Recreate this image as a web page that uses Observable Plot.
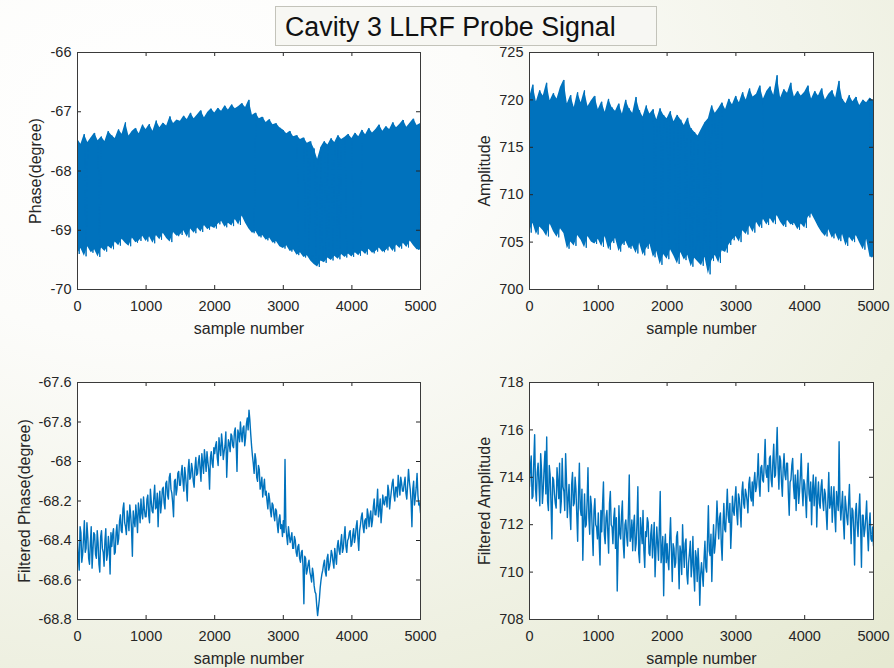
<!DOCTYPE html>
<html>
<head>
<meta charset="utf-8">
<script src="https://cdn.jsdelivr.net/npm/d3@7"></script>
<script src="https://cdn.jsdelivr.net/npm/@observablehq/plot@0.6"></script>
<style>
  html, body { margin: 0; padding: 0; }
  #slide {
    position: relative;
    width: 894px;
    height: 668px;
    overflow: hidden;
    background: radial-gradient(ellipse 120% 110% at 18% 18%, #ffffff 0%, #fcfcfa 30%, #f3f4ea 60%, #e9ecd8 90%, #e6e9d2 100%);
    font-family: "Liberation Sans", Arial, sans-serif;
  }
  .panel { position: absolute; }
  #title {
    position: absolute;
    left: 275px;
    top: 6px;
    height: 38px;
    width: 371px;
    border: 1px solid #c3c3ba;
    background: #f7f7f3;
    font-size: 26.8px;
    line-height: 40px;
    padding-left: 9px;
    color: #111;
    white-space: nowrap;
    z-index: 5;
  }
</style>
</head>
<body>
<div id="slide">
  <div id="title">Cavity 3 LLRF Probe Signal</div>
</div>
<script>
// Sample axis
const xTicks = [0, 1000, 2000, 3000, 4000, 5000];
const xLabel = "sample number";
const SAMPLE_STEP = 25;

// Y ticks for each panel
const phaseTicks = [-70, -69, -68, -67, -66];
const ampTicks = [700, 705, 710, 715, 720, 725];
const filteredPhaseTicks = [-68.8, -68.6, -68.4, -68.2, -68, -67.8, -67.6];
const filteredAmpTicks = [708, 710, 712, 714, 716, 718];

// Raw phase: successive peaks (even samples) and troughs (odd samples) of the trace
const phasePeaks = [
  -67.46, -67.55, -67.38, -67.52, -67.44, -67.36, -67.49, -67.42, -67.50, -67.33,
  -67.40, -67.45, -67.30, -67.38, -67.18, -67.41, -67.33, -67.28, -67.37, -67.22,
  -67.30, -67.21, -67.33, -67.15, -67.27, -67.19, -67.24, -67.08, -67.20, -67.14,
  -67.16, -67.07, -67.13, -67.02, -67.12, -67.05, -66.98, -67.10, -67.01, -66.95,
  -67.02, -66.94, -66.99, -66.90, -66.97, -66.88, -66.95, -66.91, -66.86, -66.93,
  -66.80, -67.06, -67.02, -67.12, -67.09, -67.18, -67.13, -67.22, -67.20, -67.27,
  -67.31, -67.37, -67.33, -67.42, -67.40, -67.47, -67.44, -67.53, -67.50, -67.62,
  -67.80, -67.60, -67.50, -67.56, -67.45, -67.52, -67.40, -67.47, -67.43, -67.38,
  -67.45, -67.36, -67.42, -67.31, -67.39, -67.28, -67.36, -67.30, -67.22, -67.33,
  -67.25, -67.30, -67.18, -67.27, -67.21, -67.14, -67.26, -67.19, -67.12, -67.23, -67.20
];
const phaseTroughs = [
  -69.40, -69.31, -69.44, -69.28, -69.38, -69.33, -69.45, -69.30, -69.36, -69.27,
  -69.32, -69.20, -69.26, -69.15, -69.22, -69.27, -69.13, -69.21, -69.18, -69.10,
  -69.19, -69.11, -69.22, -69.09, -69.16, -69.05, -69.14, -69.20, -69.04, -69.10,
  -69.08, -69.01, -69.12, -68.98, -69.05, -68.96, -69.03, -68.92, -68.99, -68.94,
  -68.97, -68.90, -68.85, -68.95, -68.88, -68.93, -68.82, -68.91, -68.76, -68.88,
  -68.98, -69.05, -69.02, -69.12, -69.09, -69.17, -69.13, -69.22, -69.19, -69.28,
  -69.31, -69.26, -69.36, -69.33, -69.42, -69.38, -69.46, -69.43, -69.52, -69.58,
  -69.62, -69.52, -69.55, -69.47, -69.51, -69.44, -69.49, -69.41, -69.46, -69.40,
  -69.45, -69.38, -69.43, -69.35, -69.41, -69.32, -69.39, -69.36, -69.30, -69.37,
  -69.34, -69.28, -69.36, -69.25, -69.31, -69.22, -69.29, -69.18, -69.26, -69.33
];

// Raw amplitude: peaks and troughs of the trace
const ampPeaks = [
  720.2, 721.6, 719.8, 721.0, 720.4, 721.8, 719.9, 720.7, 720.1, 721.3,
  722.1, 719.6, 720.5, 719.2, 720.8, 719.7, 721.0, 719.3, 719.9, 720.4,
  719.0, 719.8, 718.7, 720.1, 719.2, 718.8, 719.6, 718.5, 720.0, 719.1,
  718.6, 720.3, 718.9, 718.2, 719.4, 718.5, 719.0, 717.9, 719.1, 718.4,
  718.0, 718.8, 717.7, 718.4, 717.9, 717.3, 718.1, 717.0, 716.6, 716.2,
  716.9, 717.6, 718.0, 719.4, 718.6, 719.1, 719.7, 719.0, 720.1, 719.5,
  720.4, 719.7, 720.8, 720.0, 721.2, 720.3, 720.6, 721.5, 720.1, 720.9,
  721.4, 720.5, 722.6, 720.2, 721.1, 720.7, 721.8, 720.3, 720.9, 720.4,
  720.8, 721.5, 720.1, 720.9, 720.4, 721.2, 720.0, 720.6, 721.0, 720.2,
  722.0, 720.1, 719.6, 720.5, 719.8, 720.3, 719.4, 720.0, 719.7, 720.2, 719.9
];
const ampTroughs = [
  706.0, 707.0, 705.8, 706.6, 706.2, 705.6, 706.9, 706.1, 705.5, 706.4,
  705.9, 704.3, 705.0, 704.6, 705.7, 705.2, 704.4, 705.6, 705.0, 704.8,
  705.3, 704.5, 705.6, 704.2, 704.9, 705.4, 704.0, 704.7, 705.1, 704.3,
  704.6, 703.8, 704.9, 703.6, 704.3, 704.8, 703.4, 704.0, 702.6, 703.7,
  703.2, 704.2, 703.5, 702.7, 703.9, 703.1, 703.6, 702.4, 703.3, 702.9,
  702.5, 703.4, 701.6, 703.0, 703.6, 702.8, 704.1, 703.9, 704.7, 705.2,
  705.6, 705.0, 706.2, 705.8, 706.7, 706.0, 707.1, 706.5, 707.4, 706.8,
  707.5, 706.9, 707.8, 707.1, 706.6, 707.3, 706.8, 707.0, 706.3, 706.9,
  706.5, 707.6, 708.0, 707.3, 706.6, 706.0, 705.6, 706.3, 705.4, 705.9,
  705.1, 705.8, 704.6, 705.5, 705.0, 705.7, 704.9, 704.2, 705.3, 703.4
];

// Filtered phase: samples on the SAMPLE_STEP grid ...
const filteredPhase = [
  -68.40, -68.55, -68.36, -68.47, -68.30, -68.44, -68.38, -68.52, -68.33, -68.45,
  -68.37, -68.49, -68.41, -68.56, -68.35, -68.46, -68.40, -68.50, -68.38, -68.57,
  -68.43, -68.34, -68.46, -68.32, -68.39, -68.27, -68.36, -68.21, -68.33, -68.25,
  -68.35, -68.27, -68.48, -68.30, -68.22, -68.36, -68.25, -68.19, -68.29, -68.24,
  -68.28, -68.17, -68.31, -68.20, -68.26, -68.12, -68.23, -68.33, -68.15, -68.21,
  -68.13, -68.24, -68.10, -68.19, -68.06, -68.16, -68.28, -68.09, -68.14, -68.05,
  -68.12, -68.02, -68.15, -68.07, -68.20, -67.99, -68.08, -68.04, -68.13, -67.98,
  -68.06, -67.97, -68.10, -68.01, -67.94, -68.05, -68.00, -68.14, -67.95, -68.03,
  -67.96, -67.90, -68.02, -67.93, -67.86, -67.99, -67.92, -68.08, -67.89, -67.95,
  -67.87, -67.93, -67.83, -68.05, -67.86, -67.80, -67.90, -67.82, -67.88, -67.78,
  -67.74, -67.86, -67.97, -68.06, -67.99, -68.10, -68.04, -68.12, -68.18, -68.09,
  -68.15, -68.24, -68.19, -68.28, -68.22, -68.30, -68.25, -68.36, -68.27, -68.32,
  -68.30, -67.99, -68.38, -68.33, -68.41, -68.36, -68.44, -68.40, -68.48, -68.42,
  -68.51, -68.45, -68.72, -68.49, -68.55, -68.50, -68.58, -68.54, -68.63, -68.67,
  -68.78, -68.70, -68.60, -68.55, -68.50, -68.58, -68.47, -68.53, -68.45, -68.51,
  -68.44, -68.52, -68.40, -68.47, -68.37, -68.44, -68.33, -68.46, -68.39, -68.35,
  -68.42, -68.34, -68.38, -68.30, -68.45, -68.32, -68.26, -68.36, -68.29, -68.24,
  -68.33, -68.25, -68.30, -68.19, -68.27, -68.14, -68.24, -68.31, -68.17, -68.22,
  -68.18, -68.12, -68.24, -68.15, -68.09, -68.20, -68.13, -68.07, -68.17, -68.11,
  -68.15, -68.08, -68.19, -68.04, -68.14, -68.33, -68.10, -68.18, -68.06, -68.22, -68.26
];
// ... and samples halfway between grid points
const filteredPhaseHalf = [
  -68.48, -68.33, -68.51, -68.39, -68.46, -68.31, -68.49, -68.41, -68.54, -68.36,
  -68.47, -68.35, -68.52, -68.38, -68.44, -68.53, -68.34, -68.47, -68.43, -68.36,
  -68.37, -68.47, -68.36, -68.42, -68.30, -68.35, -68.24, -68.31, -68.37, -68.29,
  -68.22, -68.34, -68.25, -68.33, -68.28, -68.21, -68.31, -68.26, -68.18, -68.28,
  -68.19, -68.27, -68.14, -68.25, -68.18, -68.24, -68.16, -68.20, -68.26, -68.14,
  -68.21, -68.11, -68.17, -68.08, -68.14, -68.21, -68.10, -68.17, -68.06, -68.12,
  -68.06, -68.10, -68.03, -68.13, -68.04, -68.09, -68.01, -68.10, -68.03, -68.07,
  -68.00, -68.04, -67.96, -68.06, -67.99, -67.95, -68.04, -67.98, -68.01, -67.93,
  -67.92, -67.98, -67.88, -67.97, -67.91, -67.95, -67.85, -67.96, -67.91, -67.86,
  -67.92, -67.85, -67.91, -67.84, -67.90, -67.86, -67.83, -67.92, -67.81, -67.84,
  -67.79, -67.92, -68.01, -67.96, -68.08, -68.02, -68.14, -68.08, -68.13, -68.17,
  -68.20, -68.16, -68.25, -68.21, -68.27, -68.24, -68.32, -68.29, -68.34, -68.38,
  -68.36, -68.33, -68.42, -68.37, -68.39, -68.44, -68.38, -68.46, -68.43, -68.49,
  -68.46, -68.53, -68.48, -68.57, -68.52, -68.56, -68.61, -68.57, -68.66, -68.73,
  -68.74, -68.64, -68.57, -68.52, -68.56, -68.49, -68.55, -68.50, -68.47, -68.54,
  -68.48, -68.43, -68.45, -68.41, -68.46, -68.38, -68.43, -68.40, -68.36, -68.43,
  -68.37, -68.41, -68.33, -68.39, -68.35, -68.28, -68.33, -68.30, -68.34, -68.27,
  -68.28, -68.33, -68.23, -68.27, -68.22, -68.28, -68.19, -68.25, -68.21, -68.18,
  -68.23, -68.15, -68.19, -68.11, -68.17, -68.13, -68.18, -68.12, -68.08, -68.15,
  -68.11, -68.16, -68.12, -68.10, -68.20, -68.14, -68.22, -68.13, -68.17, -68.21
];

// Filtered amplitude: samples on the SAMPLE_STEP grid ...
const filteredAmp = [
  713.6, 714.9, 713.2, 715.8, 713.0, 714.6, 712.8, 714.3, 713.5, 715.1,
  715.7, 712.6, 714.1, 711.4, 713.9, 712.9, 714.4, 713.1, 712.5, 714.8,
  713.4, 715.0, 712.3, 713.7, 711.8, 714.2, 712.9, 713.5, 711.3, 714.6,
  712.4, 710.5, 713.3, 712.0, 714.4, 711.6, 712.8, 710.7, 713.1, 711.9,
  712.5, 710.3, 711.7, 713.8, 711.2, 712.6, 710.8, 713.4, 711.9, 712.3,
  711.0, 709.2, 712.8, 711.4, 713.0, 710.6, 712.2, 711.1, 714.1, 711.5,
  710.9, 712.4, 711.2, 713.6, 710.4, 711.8, 712.6, 710.2, 711.5, 712.1,
  710.7, 712.0, 711.3, 709.8, 711.9, 710.5, 713.4, 710.9, 709.0, 711.6,
  711.2, 710.1, 712.3, 709.6, 711.0, 710.4, 711.7, 709.3, 710.8, 712.0,
  710.2, 711.4, 709.5, 710.8, 709.8, 711.5, 709.2, 710.6, 711.0, 708.6,
  710.4, 709.4, 711.3, 710.0, 712.8, 710.7, 709.6, 712.0, 711.2, 713.0,
  711.4, 712.5, 710.5, 712.9, 711.7, 713.5, 712.1, 711.0, 713.2, 712.4,
  713.6, 712.0, 713.1, 711.9, 713.8, 712.7, 713.3, 712.5, 714.0, 713.0,
  712.8, 714.2, 713.6, 715.0, 713.2, 714.5, 713.8, 715.6, 714.0, 713.4,
  714.9, 713.6, 715.4, 714.1, 716.1, 713.5, 714.7, 713.2, 715.0, 713.9,
  714.6, 712.4, 713.9, 714.8, 713.1, 712.6, 714.3, 713.4, 715.0, 712.8,
  713.7, 712.3, 714.6, 713.0, 712.0, 714.1, 713.5, 711.9, 713.8, 712.7,
  713.9, 712.6, 713.3, 711.8, 714.2, 712.9, 712.1, 713.6, 711.7, 713.0,
  715.5, 712.2, 713.4, 711.4, 712.8, 712.0, 713.7, 711.2, 712.6, 710.3,
  712.9, 711.5, 713.3, 710.2, 712.4, 711.8, 713.0, 710.9, 712.5, 711.3, 711.1
];
// ... and samples halfway between grid points
const filteredAmpHalf = [
  714.4, 713.1, 714.7, 713.5, 714.2, 713.7, 715.0, 712.9, 714.4, 713.3,
  713.0, 714.5, 712.9, 714.0, 713.3, 712.7, 713.8, 714.6, 713.0, 713.6,
  712.6, 713.9, 713.1, 712.5, 713.7, 712.8, 714.0, 712.4, 713.3, 712.7,
  713.5, 712.1, 711.9, 713.0, 712.3, 713.2, 711.7, 712.6, 712.0, 711.4,
  711.3, 712.6, 712.9, 711.6, 712.3, 711.7, 712.9, 712.0, 711.2, 712.7,
  712.3, 711.0, 711.6, 712.4, 711.2, 712.0, 711.5, 712.5, 711.3, 712.2,
  712.0, 710.9, 712.1, 710.8, 712.3, 711.2, 710.9, 711.7, 712.3, 710.8,
  711.6, 710.6, 712.1, 710.9, 711.2, 711.9, 710.4, 711.5, 711.0, 710.4,
  710.5, 711.4, 710.9, 711.2, 710.2, 711.5, 710.6, 711.1, 709.9, 710.9,
  711.2, 709.9, 710.4, 711.3, 710.3, 710.0, 710.9, 709.6, 710.2, 709.9,
  709.9, 710.6, 710.2, 711.4, 710.9, 711.6, 711.0, 710.8, 711.9, 712.1,
  712.3, 711.2, 712.0, 711.8, 712.6, 712.4, 712.9, 711.9, 712.6, 713.1,
  712.5, 713.3, 712.6, 713.4, 712.9, 713.5, 713.0, 713.7, 713.2, 713.8,
  713.8, 713.4, 714.1, 713.7, 714.4, 713.9, 714.6, 714.2, 714.5, 714.8,
  713.9, 714.7, 714.0, 715.0, 714.4, 714.9, 713.8, 714.4, 714.1, 714.6,
  713.3, 713.8, 714.5, 713.6, 714.1, 713.7, 712.9, 714.1, 713.5, 713.9,
  713.1, 713.9, 713.3, 713.8, 713.4, 712.8, 714.0, 713.2, 712.9, 713.6,
  713.0, 713.5, 712.5, 713.1, 712.7, 713.6, 712.9, 712.4, 713.4, 712.6,
  713.0, 712.8, 712.1, 713.2, 712.3, 712.9, 712.4, 712.7, 711.8, 712.5,
  712.0, 712.6, 711.9, 712.4, 711.5, 712.3, 711.7, 712.0, 711.4, 711.9
];

// Merge two sample sets, offset by half a step, into one ordered trace
function interleave(first, second, offset) {
  const out = [];
  first.forEach((v, k) => {
    out.push({s: k * 2 * offset, v});
    if (k < second.length) out.push({s: (k * 2 + 1) * offset, v: second[k]});
  });
  return out;
}
// Peak/trough pairs: the dense raw trace fills the band between them
function rawBand(peaks, troughs) {
  return peaks.map((p, k) => ({s: 2 * k * SAMPLE_STEP, hi: p, lo: troughs[Math.min(k, troughs.length - 1)]}));
}

const BLUE = "#0072BD";
const INK = "#262626";
const fmt = d => String(d);

function panel({data, band, yDomain, yTicks, yLabel, left, top, width, height, margin, strokeWidth, labelDx}) {
  const [mt, mr, mb, ml] = margin;
  const iw = width - ml - mr;
  const ih = height - mt - mb;
  const tick = 4;
  const chart = Plot.plot({
    width, height,
    marginTop: mt, marginRight: mr, marginBottom: mb, marginLeft: ml,
    style: {background: "transparent", fontFamily: "'Liberation Sans', Arial, sans-serif", fontSize: "14.5px", color: INK, overflow: "visible"},
    x: {domain: [0, 5000]},
    y: {domain: yDomain},
    marks: [
      Plot.frame({fill: "white", stroke: null}),
      band ? Plot.areaY(band, {x: "s", y1: "lo", y2: "hi", fill: BLUE, clip: true}) : null,
      Plot.line(data, {x: "s", y: "v", stroke: BLUE, strokeWidth, clip: true}),
      Plot.tickX(xTicks, {x: d => d, insetTop: ih - tick, stroke: INK}),
      Plot.tickX(xTicks, {x: d => d, insetBottom: ih - tick, stroke: INK}),
      Plot.tickY(yTicks, {y: d => d, insetRight: iw - tick, stroke: INK}),
      Plot.tickY(yTicks, {y: d => d, insetLeft: iw - tick, stroke: INK}),
      Plot.axisX(xTicks, {tickSize: 0, tickPadding: 11, label: null, tickFormat: fmt, fill: INK}),
      Plot.axisY(yTicks, {tickSize: 0, tickPadding: 6, label: null, tickFormat: fmt, fill: INK}),
      Plot.text([xLabel], {text: d => d, frameAnchor: "bottom", dy: 44, fontSize: 16, fill: INK, textAnchor: "middle"}),
      Plot.text([yLabel], {text: d => d, frameAnchor: "left", dx: labelDx, rotate: -90, fontSize: 16, fill: INK, textAnchor: "middle"}),
      Plot.frame({stroke: "#3a3a3a", strokeWidth: 1})
    ]
  });
  chart.classList.add("panel");
  chart.style.left = left + "px";
  chart.style.top = top + "px";
  document.getElementById("slide").appendChild(chart);
}

panel({
  data: interleave(phasePeaks, phaseTroughs, SAMPLE_STEP), band: rawBand(phasePeaks, phaseTroughs),
  yDomain: [-70, -66], yTicks: phaseTicks,
  yLabel: "Phase(degree)", left: 0, top: 30, width: 447, height: 310,
  margin: [22, 27, 51, 77], strokeWidth: 1, labelDx: -41.5
});
panel({
  data: interleave(ampPeaks, ampTroughs, SAMPLE_STEP), band: rawBand(ampPeaks, ampTroughs),
  yDomain: [700, 725], yTicks: ampTicks,
  yLabel: "Amplitude", left: 447, top: 30, width: 447, height: 310,
  margin: [22, 21, 51, 82], strokeWidth: 1, labelDx: -45
});
panel({
  data: interleave(filteredPhase, filteredPhaseHalf, SAMPLE_STEP / 2),
  yDomain: [-68.8, -67.6], yTicks: filteredPhaseTicks,
  yLabel: "Filtered Phase(degree)", left: 0, top: 360, width: 447, height: 308,
  margin: [22, 27, 49, 77], strokeWidth: 1.4, labelDx: -52.5
});
panel({
  data: interleave(filteredAmp, filteredAmpHalf, SAMPLE_STEP / 2),
  yDomain: [708, 718], yTicks: filteredAmpTicks,
  yLabel: "Filtered Amplitude", left: 447, top: 360, width: 447, height: 308,
  margin: [22, 21, 49, 82], strokeWidth: 1.4, labelDx: -45
});
</script>
</body>
</html>
